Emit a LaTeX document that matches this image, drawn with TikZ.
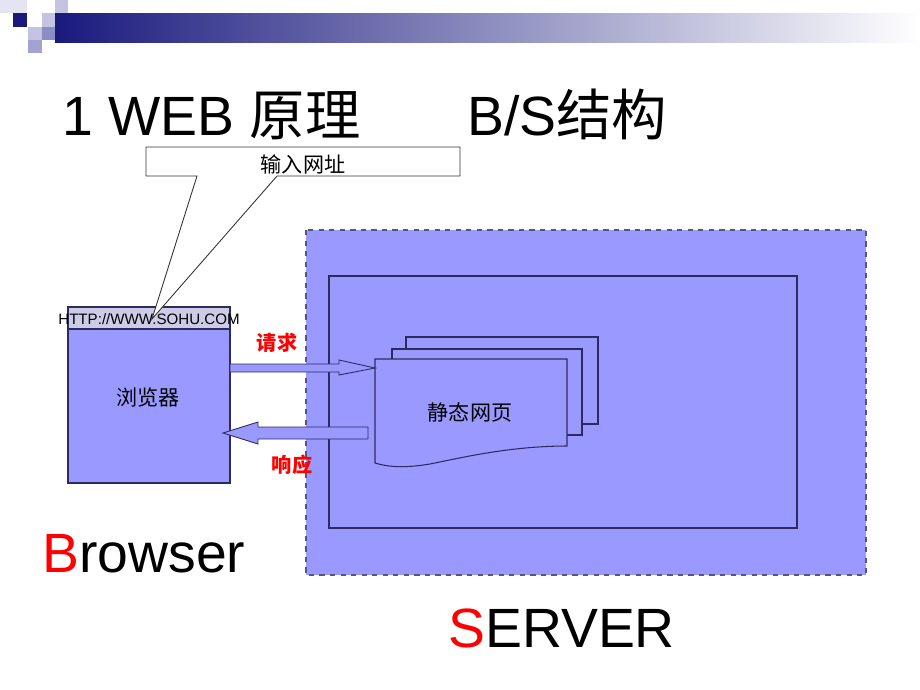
\documentclass[tikz,border=0pt]{standalone}
\usepackage{fontspec}
\setmainfont{Liberation Sans}
\newfontfamily\cjk{Noto Sans CJK SC}
\usetikzlibrary{positioning,calc}

\definecolor{svfill}{HTML}{9999FF}
\definecolor{urlfill}{HTML}{CCCCE8}
\definecolor{edgeblue}{HTML}{2C2C5C}
\definecolor{navy}{HTML}{1A1A7E}
\definecolor{pale}{HTML}{E4E4F2}
\definecolor{lilac}{HTML}{C4C4E2}
\definecolor{midblue}{HTML}{8C8CC6}

\tikzset{
    pagebox/.style={draw=edgeblue, fill=svfill, line width=0.6pt},
    blockarrow/.style={draw=edgeblue, fill=svfill, line width=0.5pt},
    bigtitle/.style={font=\fontsize{31.5}{35}\selectfont, anchor=base west, inner sep=0pt},
    cntext/.style={font=\cjk\fontsize{12}{14}\selectfont, inner sep=0pt},
    redlabel/.style={font=\cjk\bfseries\fontsize{11.5}{13}\selectfont, text=red, inner sep=0pt}
}

\begin{document}
\begin{tikzpicture}[x=0.02cm, y=-0.02cm]
    \useasboundingbox (0,0) rectangle (920,690);

    % Slide decoration
    \fill[pale] (0,0) rectangle (27,13);
    \fill[lilac] (55,0) rectangle (68,13);
    \fill[navy] (13,13) rectangle (27,27);
    \fill[lilac] (42,13) rectangle (55,27);
    \fill[midblue] (55,13) rectangle (68,27);
    \fill[lilac] (28,27) rectangle (42,40);
    \fill[midblue] (42,27) rectangle (55,40);
    \fill[midblue!80] (28,40) rectangle (42,53);
    \shade[left color=navy, middle color={rgb,255:red,160;green,160;blue,190}, right color=white] (55,13) rectangle (920,42);

    % Titles
    \node[bigtitle] (title) at (62,135) {1 WEB {\cjk 原理}};
    \node[bigtitle] (bstitle) at (467,135) {B/S{\cjk 结构}};

    % Server area
    \draw[fill=svfill, draw=edgeblue!80, dashed, line width=0.6pt] (306,230) rectangle (866,575);
    \draw[draw=edgeblue, line width=0.6pt] (329,276) rectangle (797,528);

    % Stack of static pages
    \draw[pagebox] (406,337) rectangle (598,424);
    \draw[pagebox] (392,349) rectangle (582,435);
    \draw[pagebox] (375,359) -- (567,359) -- (567,446)
        .. controls (510,446) and (460,458) .. (430,464)
        .. controls (400,469) and (385,466) .. (375,463) -- cycle;
    \node[cntext] (page) at (470,412) {静态网页};

    % Browser
    \draw[pagebox] (68,329) rectangle (230,483);
    \draw[draw=edgeblue, fill=urlfill, line width=0.6pt] (68,307) rectangle (230,329);
    \node[cntext] (browser) at (148,397) {浏览器};
    \node[font=\fontsize{8.6}{10}\selectfont, inner sep=0pt] (url) at (149,319) {HTTP://WWW.SOHU.COM};

    % Callout
    \coordinate (tip) at (152,319);
    \draw[fill=white, draw=black!80, line width=0.5pt]
        (146,147) -- (460,147) -- (460,176) -- (277,176) -- (tip) -- (197,176) -- (146,176) -- cycle;
    \node[cntext] (callout) at (303,164) {输入网址};

    % Request and response
    \coordinate (reqS) at (230,368);
    \coordinate (reqE) at (375,368);
    \draw[blockarrow] ($(reqS)+(0,-4)$) -- ($(reqE)+(-36,-4)$) -- ($(reqE)+(-36,-8)$) -- (reqE)
        -- ($(reqE)+(-36,7)$) -- ($(reqE)+(-36,4)$) -- ($(reqS)+(0,4)$) -- cycle;
    \coordinate (resS) at (368,433);
    \coordinate (resE) at (223,433);
    \draw[blockarrow] ($(resS)+(0,-6)$) -- ($(resE)+(35,-6)$) -- ($(resE)+(35,-11)$) -- (resE)
        -- ($(resE)+(35,11)$) -- ($(resE)+(35,6)$) -- ($(resS)+(0,6)$) -- cycle;
    \node[redlabel] (req) at (277,343) {请求};
    \node[redlabel] (res) at (292,465) {响应};

    % Big labels
    \node[bigtitle] (browsername) at (42,572) {\textcolor{red}{B}rowser};
    \node[bigtitle] (servername) at (448,647) {\textcolor{red}{S}ERVER};
\end{tikzpicture}
\end{document}
